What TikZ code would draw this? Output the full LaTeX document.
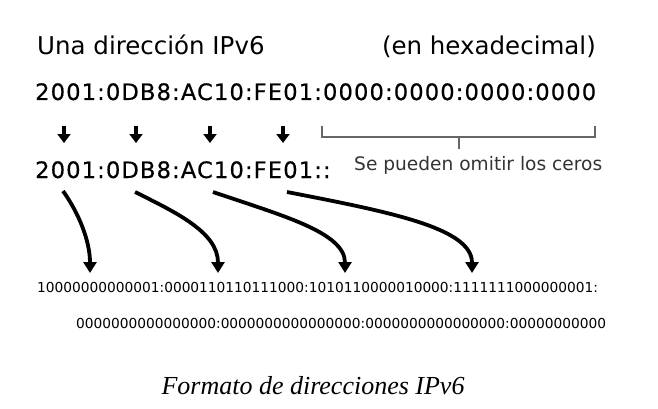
\documentclass[tikz,border=0pt]{standalone}
\usepackage{fontspec}
\setmainfont{DejaVu Sans}
\newfontfamily\hexfont[FakeBold=0.5,LetterSpace=5]{DejaVu Sans}
\newfontfamily\capfont{Liberation Serif}
\usetikzlibrary{arrows.meta}
\newcommand\hexsep{:}
\tikzset{
  txt/.style={inner sep=0pt, anchor=base west},
  hexrow/.style={txt, font=\hexfont\fontsize{22.6}{26}\selectfont},
  binrow/.style={txt, font=\fontsize{13.75}{16}\selectfont},
  shortarrow/.style={line width=4.5pt, -{Triangle[width=13pt,length=9pt]}},
  longarrow/.style={line width=3.8pt, -{Triangle[width=13pt,length=11pt]}},
  bracket/.style={draw=black!60, line width=1.5pt}
}
\begin{document}
\begin{tikzpicture}[x=1pt,y=-1pt]
  \useasboundingbox[fill=white] (0,0) rectangle (658,409);

  \node[txt, font=\fontsize{24.5}{28}\selectfont] (title) at (37,55) {Una dirección IPv6};
  \node[txt, anchor=base east, font=\fontsize{24.5}{28}\selectfont] (base) at (596,55) {(en hexadecimal)};

  \node[hexrow] (full) at (35,100) {2001\hexsep 0DB8\hexsep AC10\hexsep FE01\hexsep 0000\hexsep 0000\hexsep 0000\hexsep 0000};
  \node[hexrow] (short) at (35,178) {2001\hexsep 0DB8\hexsep AC10\hexsep FE01::};

  % zeros that can be dropped
  \draw[bracket] (322,126) |- (595,137) -- (595,126);
  \draw[bracket] (459,137) -- (459,149);
  \node[txt, text=black!80, font=\fontsize{18.6}{22}\selectfont] (omit) at (354,170) {Se pueden omitir los ceros};

  \foreach \x [count=\i] in {64,136,210,283} {
    \coordinate (up\i) at (\x,126);
    \coordinate (dn\i) at (\x,143);
    \draw[shortarrow] (up\i) -- (dn\i);
  }

  \node[binrow] (bin1) at (37,292) {10000000000001:0000110110111000:1010110000010000:1111111000000001:};
  \node[binrow] (bin2) at (76,328) {0000000000000000:0000000000000000:0000000000000000:00000000000};

  \coordinate (s1) at (63,191);  \coordinate (b1) at (90,273);
  \coordinate (s2) at (135,192); \coordinate (b2) at (218,273);
  \coordinate (s3) at (213,192); \coordinate (b3) at (345,273);
  \coordinate (s4) at (287,192); \coordinate (b4) at (472,273);
  \draw[longarrow] (s1) .. controls (78,212) and (90,240) .. (b1);
  \draw[longarrow] (s2) .. controls (175,212) and (218,232) .. (b2);
  \draw[longarrow] (s3) .. controls (280,215) and (345,232) .. (b3);
  \draw[longarrow] (s4) .. controls (390,212) and (472,228) .. (b4);

  \node[inner sep=0pt, anchor=base, font=\capfont\itshape\fontsize{26}{30}\selectfont] (caption) at (313,394) {Formato de direcciones IPv6};
\end{tikzpicture}
\end{document}
